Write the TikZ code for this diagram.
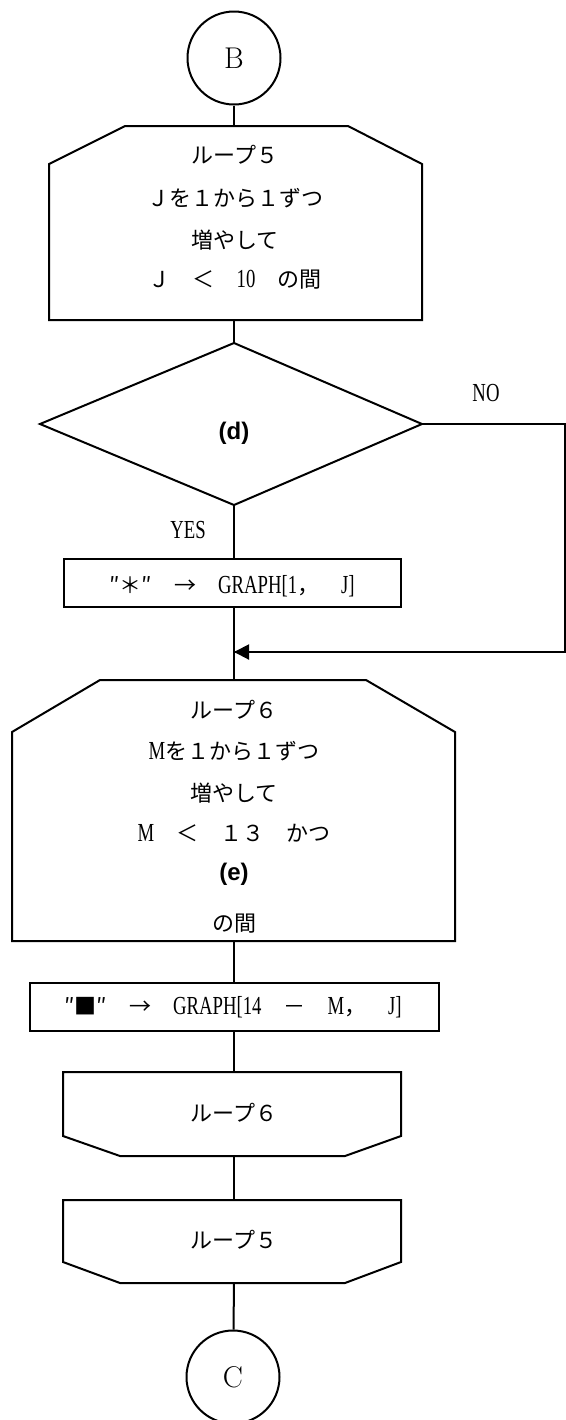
\documentclass[tikz,border=0pt]{standalone}
\usepackage{fontspec}
\newfontfamily\jp{Noto Sans CJK JP}
\newfontfamily\cond[FakeStretch=0.72]{Liberation Serif}
\newfontfamily\bsans{Liberation Sans}
\newcommand\cn[1]{{\cond\fontsize{13}{13}\selectfont #1}}
\usetikzlibrary{arrows.meta}
\tikzset{
  flow/.style={draw=black, line width=1pt, line join=miter},
  conn/.style={draw=black, line width=1pt},
  jtxt/.style={font=\jp\fontsize{11}{13}\selectfont, inner sep=0pt},
  ltxt/.style={font=\cond\fontsize{13}{13}\selectfont, inner sep=0pt},
  btxt/.style={font=\bsans\bfseries\fontsize{12}{14}\selectfont, inner sep=0pt},
  conncircle/.style={flow, circle, inner sep=0pt, minimum size=46.5pt, font=\fontsize{15}{16}\selectfont},
  procbox/.style={flow, rectangle, inner sep=0pt},
  tip/.style={-{Triangle[length=7.5pt,width=7.5pt]}}
}
\begin{document}
\begin{tikzpicture}[x=0.5pt,y=-0.5pt]
\useasboundingbox (0,0) rectangle (566,1420);

% connector B
\node[conncircle] (B) at (234,58) {B};

% loop 5 start
\draw[flow] (125,126) -- (348,126) -- (422,164) -- (422,320) -- (49,320) -- (49,164) -- cycle;
\coordinate (L5top) at (234,126);
\coordinate (L5bot) at (234,320);
\node[jtxt] (l5a) at (235,155) {ループ５};
\node[jtxt] (l5b) at (235,198) {Ｊを１から１ずつ};
\node[jtxt] (l5c) at (235,240) {増やして};
\node[jtxt] (l5d) at (235,280) {Ｊ　＜　\cn{10}　の間};

% decision
\coordinate (Dtop) at (234,343);
\coordinate (Dright) at (422,424);
\coordinate (Dbot) at (234,505);
\coordinate (Dleft) at (40,424);
\draw[flow] (Dtop) -- (Dright) -- (Dbot) -- (Dleft) -- cycle;
\node[btxt] (d) at (234,433) {(d)};
\node[ltxt] (no) at (486,393) {NO};
\node[ltxt] (yes) at (188,530) {YES};

% process 1
\node[procbox, minimum width=168.5pt, minimum height=24pt] (P1) at (232.5,583) {};
\node[jtxt] (p1t) at (232,586) {″＊″　→　\cn{GRAPH[1}，　\cn{J]}};

% NO path
\coordinate (NOc1) at (565,424);
\coordinate (NOc2) at (565,652);
\coordinate (J1) at (234,652);

% loop 6 start
\draw[flow] (100,680) -- (366,680) -- (455,732) -- (455,941) -- (12,941) -- (12,732) -- cycle;
\coordinate (L6top) at (234,680);
\coordinate (L6bot) at (234,941);
\node[jtxt] (l6a) at (234,710) {ループ６};
\node[jtxt] (l6b) at (234,751) {\cn{M}を１から１ずつ};
\node[jtxt] (l6c) at (234,793) {増やして};
\node[jtxt] (l6d) at (234,833) {\cn{M}　＜　１３　かつ};
\node[btxt] (e) at (234,874) {(e)};
\node[jtxt] (l6f) at (234,924) {の間};

% process 2
\node[procbox, minimum width=204.5pt, minimum height=24pt] (P2) at (234.5,1007) {};
\node[jtxt] (p2t) at (233,1007) {″■″　→　\cn{GRAPH[14}　－　\cn{M}，　\cn{J]}};

% loop 6 end
\draw[flow] (63,1072) -- (401,1072) -- (401,1136) -- (345,1156) -- (120,1156) -- (63,1136) -- cycle;
\coordinate (E6top) at (234,1072);
\coordinate (E6bot) at (234,1156);
\node[jtxt] (e6) at (234,1113) {ループ６};

% loop 5 end
\draw[flow] (63,1200) -- (401,1200) -- (401,1262) -- (345,1283) -- (120,1283) -- (63,1262) -- cycle;
\coordinate (E5top) at (234,1200);
\coordinate (E5bot) at (234,1283);
\node[jtxt] (e5) at (234,1240) {ループ５};

% connector C
\node[conncircle] (C) at (233,1377) {C};

% connectors
\draw[conn] (B) -- (L5top);
\draw[conn] (L5bot) -- (Dtop);
\draw[conn] (Dbot) -- (P1.north -| Dbot);
\draw[conn] (P1.south -| Dbot) -- (L6top);
\draw[conn] (Dright) -- (NOc1) -- (NOc2) -- (J1);
\draw[conn, tip] (NOc2) -- (J1);
\draw[conn] (L6bot) -- (P2.north -| L6bot);
\draw[conn] (P2.south -| L6bot) -- (E6top);
\draw[conn] (E6bot) -- (E5top);
\draw[conn] (E5bot) -- (C);
\end{tikzpicture}
\end{document}
